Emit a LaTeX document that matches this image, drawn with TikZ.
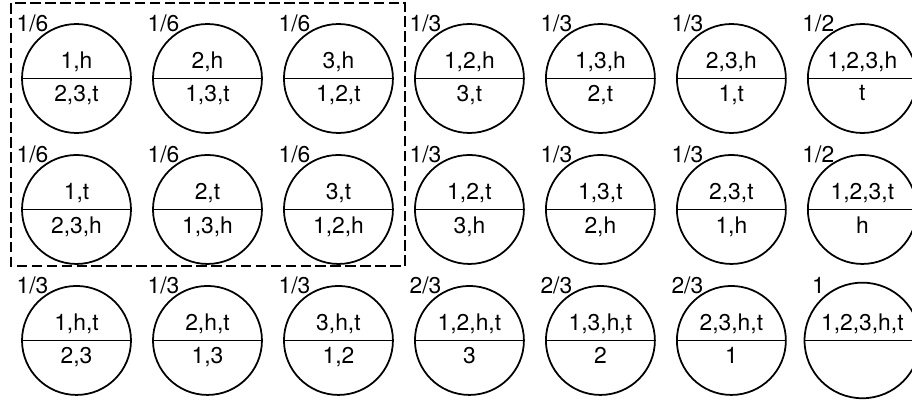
\documentclass[tikz,border=0pt]{standalone}
\usepackage{fontspec}
\setmainfont{TeX Gyre Heros}
\usepackage{tikz}
\usetikzlibrary{shapes,positioning}

\tikzset{
    prob/.style={shift={(-44,55)}, inner sep=0pt},
    state/.style={circle split, draw, line width=1pt, minimum size=2.18cm,
                  inner sep=3.5pt, label={[prob]center:#1}},
    group/.style={line width=0.6pt, dash pattern=on 6pt off 2.5pt}
}

\begin{document}
\begin{tikzpicture}[x=0.02cm, y=0.02cm, node distance=2.62cm,
                    font=\fontsize{13}{15}\selectfont]
    \clip (0,0) rectangle (912,399);

    % one player set aside
    \node[state=1/6] (h1) at (76.5,320.5) {1,h \nodepart{lower} 2,3,t};
    \node[state=1/6, right of=h1] (h2) {2,h \nodepart{lower} 1,3,t};
    \node[state=1/6, right of=h2] (h3) {3,h \nodepart{lower} 1,2,t};
    \node[state=1/3, right of=h3] (h12) {1,2,h \nodepart{lower} 3,t};
    \node[state=1/3, right of=h12] (h13) {1,3,h \nodepart{lower} 2,t};
    \node[state=1/3, right of=h13] (h23) {2,3,h \nodepart{lower} 1,t};
    \node[state=1/2, right of=h23] (h123) {1,2,3,h \nodepart{lower} t};

    \node[state=1/6, below of=h1] (t1) {1,t \nodepart{lower} 2,3,h};
    \node[state=1/6, right of=t1] (t2) {2,t \nodepart{lower} 1,3,h};
    \node[state=1/6, right of=t2] (t3) {3,t \nodepart{lower} 1,2,h};
    \node[state=1/3, right of=t3] (t12) {1,2,t \nodepart{lower} 3,h};
    \node[state=1/3, right of=t12] (t13) {1,3,t \nodepart{lower} 2,h};
    \node[state=1/3, right of=t13] (t23) {2,3,t \nodepart{lower} 1,h};
    \node[state=1/2, right of=t23] (t123) {1,2,3,t \nodepart{lower} h};

    \node[state=1/3, below of=t1] (ht1) {1,h,t \nodepart{lower} 2,3};
    \node[state=1/3, right of=ht1] (ht2) {2,h,t \nodepart{lower} 1,3};
    \node[state=1/3, right of=ht2] (ht3) {3,h,t \nodepart{lower} 1,2};
    \node[state=2/3, right of=ht3] (ht12) {1,2,h,t \nodepart{lower} 3};
    \node[state=2/3, right of=ht12] (ht13) {1,3,h,t \nodepart{lower} 2};
    \node[state=2/3, right of=ht13] (ht23) {2,3,h,t \nodepart{lower} 1};
    \node[state=1, right of=ht23] (ht123) {1,2,3,h,t \nodepart{lower} \phantom{1}};

    \draw[group] (11,396) rectangle (405,133);
\end{tikzpicture}
\end{document}
